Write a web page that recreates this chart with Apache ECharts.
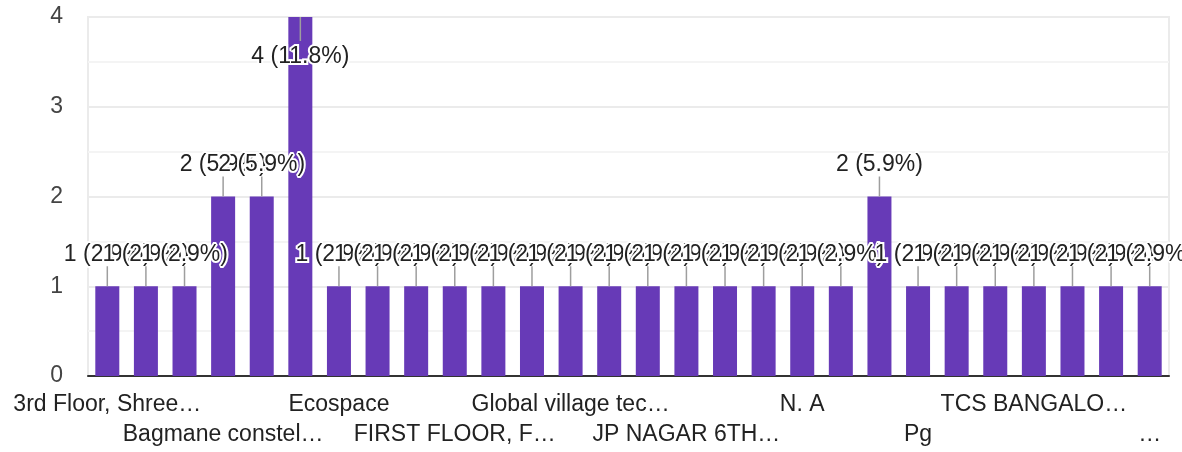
<!DOCTYPE html>
<html>
<head>
<meta charset="utf-8">
<script src="https://cdn.jsdelivr.net/npm/echarts@6/dist/echarts.min.js"></script>
<style>
  html, body { margin: 0; padding: 0; background: #fff; }
  #chart { width: 1182px; height: 452px; }
</style>
</head>
<body>
<div id="chart"></div>
<script>
// 类别（只有每隔3个的标签能读出来，其余留空）
var categories = [
    '3rd Floor, Shree…', '', '', 'Bagmane constel…', '', '',
    'Ecospace', '', '', 'FIRST FLOOR, F…', '', '',
    'Global village tec…', '', '', 'JP NAGAR 6TH…', '', '',
    'N. A', '', '', 'Pg', '', '',
    'TCS BANGALO…', '', '', '…'
];
var counts = [1, 1, 1, 2, 2, 4, 1, 1, 1, 1, 1, 1, 1, 1, 1, 1, 1, 1, 1, 1, 2, 1, 1, 1, 1, 1, 1, 1];
var yTicks = [0, 1, 2, 3, 4];

var total = counts.reduce(function (a, b) { return a + b; }, 0);
var labelData = counts.map(function (v, i) {
    return [i, v, v + ' (' + (v / total * 100).toFixed(1) + '%)'];
});

var chart = echarts.init(document.getElementById('chart'));
var font = '"Liberation Sans", Arial, sans-serif';

// x轴标签分两行：第一行 0,6,12..，第二行 3,9,15..
function xLabel(row) {
    return {
        interval: function (index) { return index % 6 === row * 3; },
        margin: 13,
        color: '#222',
        fontSize: 23,
        fontFamily: font,
        lineHeight: 32
    };
}

var option = {
    animation: false,
    grid: {
        left: 88,
        right: 13,
        top: 17,
        bottom: 76,
        show: true,
        borderColor: '#ebebeb',
        borderWidth: 2
    },
    xAxis: [
        {
            type: 'category',
            data: categories,
            axisTick: {show: false},
            axisLine: {lineStyle: {color: '#333', width: 2}},
            axisLabel: xLabel(0)
        },
        {
            type: 'category',
            position: 'bottom',
            offset: 30,
            data: categories,
            axisTick: {show: false},
            axisLine: {show: false},
            axisLabel: xLabel(1)
        }
    ],
    yAxis: {
        type: 'value',
        min: yTicks[0],
        max: yTicks[yTicks.length - 1],
        interval: 1,
        axisLine: {show: false},
        axisTick: {show: false},
        axisLabel: {
            margin: 25,
            color: '#444',
            fontSize: 23,
            fontFamily: font
        },
        splitLine: {lineStyle: {color: '#ebebeb', width: 2}},
        minorTick: {show: false, splitNumber: 2},
        minorSplitLine: {show: true, lineStyle: {color: '#f4f4f4', width: 2}}
    },
    series: [
        {
            type: 'bar',
            data: counts,
            barWidth: 24,
            itemStyle: {color: '#673ab7'}
        },
        {
            // 柱顶的引线和数值标签
            type: 'custom',
            z: 5,
            data: labelData,
            encode: {x: 0, y: 1},
            renderItem: function (params, api) {
                var top = api.coord([api.value(0), api.value(1)]);
                var flip = top[1] - 50 < params.coordSys.y;
                var dir = flip ? 1 : -1;
                return {
                    type: 'group',
                    children: [
                        {
                            type: 'line',
                            shape: {x1: top[0], y1: top[1], x2: top[0], y2: top[1] + dir * (flip ? 24 : 20)},
                            style: {stroke: '#9e9e9e', lineWidth: 1.5}
                        },
                        {
                            type: 'text',
                            x: top[0],
                            y: top[1] + dir * (flip ? 40 : 32),
                            style: {
                                text: labelData[params.dataIndex][2],
                                fill: '#222',
                                stroke: '#fff',
                                lineWidth: 4,
                                fontSize: 23,
                                fontFamily: font,
                                align: 'center',
                                verticalAlign: 'middle'
                            }
                        }
                    ]
                };
            }
        }
    ]
};

chart.setOption(option);
</script>
</body>
</html>
